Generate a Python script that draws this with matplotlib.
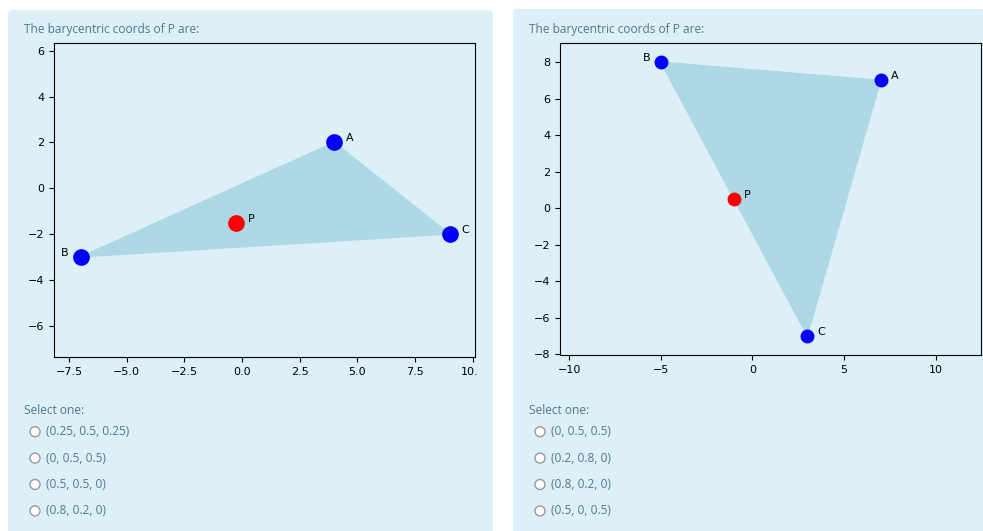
import matplotlib
matplotlib.use('Agg')
import matplotlib.pyplot as plt
from matplotlib.patches import FancyBboxPatch, Circle
from matplotlib.transforms import Bbox, TransformedBbox

W, H = 983, 531

# vertex labels and data for the two questions
labels = ['A', 'B', 'C']
left_x = [4, -7, 9]
left_y = [2, -3, -2]
left_p = (-0.25, -1.5)
right_x = [7, -5, 3]
right_y = [7, 8, -7]
right_p = (-1, 0.5)

left_xticks = [-7.5, -5.0, -2.5, 0.0, 2.5, 5.0, 7.5, 10.0]
left_yticks = [-6, -4, -2, 0, 2, 4, 6]
right_xticks = [-10, -5, 0, 5, 10]
right_yticks = [-8, -6, -4, -2, 0, 2, 4, 6, 8]

title = 'The barycentric coords of P are:'
select = 'Select one:'
left_options = ['(0.25, 0.5, 0.25)', '(0, 0.5, 0.5)', '(0.5, 0.5, 0)', '(0.8, 0.2, 0)']
right_options = ['(0, 0.5, 0.5)', '(0.2, 0.8, 0)', '(0.8, 0.2, 0)', '(0.5, 0, 0.5)']

panel_col = '#def0f7'
text_col = '#4f7790'
ui_font = ['Open Sans', 'DejaVu Sans']
ui_size = 8.6


def fx(x):
    return x / W


def fy(y):
    return 1 - y / H


fig = plt.figure(figsize=(W / 100, H / 100), dpi=100)
fig.patch.set_facecolor('white')

# question panels (pixel coords, y from top)
for x0, x1, y0 in [(8, 493, 10), (513, 995, 9)]:
    fig.patches.append(FancyBboxPatch(
        (x0 / 100, -0.1), (x1 - x0) / 100, (H - y0) / 100 + 0.1,
        boxstyle='round,pad=0,rounding_size=0.04',
        transform=fig.dpi_scale_trans, facecolor=panel_col,
        edgecolor='none', zorder=-1))


def draw_plot(rect, xs, ys, p, xlim, ylim, xticks, yticks, ms):
    l, r, t, b = rect
    ax = fig.add_axes([fx(l), fy(b), fx(r - l), (b - t) / H])
    ax.set_facecolor('none')
    ax.fill(xs, ys, color='lightblue', zorder=1)
    ax.plot(xs, ys, 'o', color='blue', markersize=ms, zorder=3)
    ax.plot([p[0]], [p[1]], 'o', color='red', markersize=ms, zorder=3)
    off = ms / 0.72 / 2 + 4
    for lab, x, y in zip(labels, xs, ys):
        if x == min(xs):
            ax.annotate(lab, (x, y), xytext=(-off, 4), textcoords='offset pixels',
                        ha='right', va='center', fontsize=8)
        else:
            ax.annotate(lab, (x, y), xytext=(off, 4), textcoords='offset pixels',
                        ha='left', va='center', fontsize=8)
    ax.annotate('P', p, xytext=(off, 4), textcoords='offset pixels',
                ha='left', va='center', fontsize=8)
    ax.set_xlim(*xlim)
    ax.set_ylim(*ylim)
    ax.set_xticks(xticks)
    ax.set_yticks(yticks)
    ax.tick_params(labelsize=8)
    return ax


axl = draw_plot((54, 475, 43, 357), left_x, left_y, left_p,
                (-8.15, 10.1), (-7.37, 6.34), left_xticks, left_yticks, 11)
axr = draw_plot((560, 981, 43, 355), right_x, right_y, right_p,
                (-10.5, 12.48), (-8.05, 9.05), right_xticks, right_yticks, 9)

# the left plot image is cropped just past its right spine
clip = TransformedBbox(Bbox([[0, 0], [fx(478), 1]]), fig.transFigure)
for lab in axl.get_xticklabels():
    lab.set_clip_box(clip)
    lab.set_clip_on(True)

# question text and answer choices
for tx, rx, opts in [(24, 35, left_options), (529, 540, right_options)]:
    fig.text(fx(tx), fy(30), title, color=text_col, fontsize=ui_size,
             family=ui_font, va='center')
    fig.text(fx(tx), fy(410.5), select, color=text_col, fontsize=ui_size,
             family=ui_font, va='center')
    for i, opt in enumerate(opts):
        yc = 431.7 + i * 26.4
        fig.patches.append(Circle((rx / 100, (H - yc) / 100), 0.05,
                                  transform=fig.dpi_scale_trans,
                                  facecolor='white', edgecolor='#9a9a9a',
                                  linewidth=1, zorder=2))
        fig.text(fx(rx + 11), fy(yc), opt, color=text_col, fontsize=ui_size,
                 family=ui_font, va='center')

fig.savefig('out.png', dpi=100)
